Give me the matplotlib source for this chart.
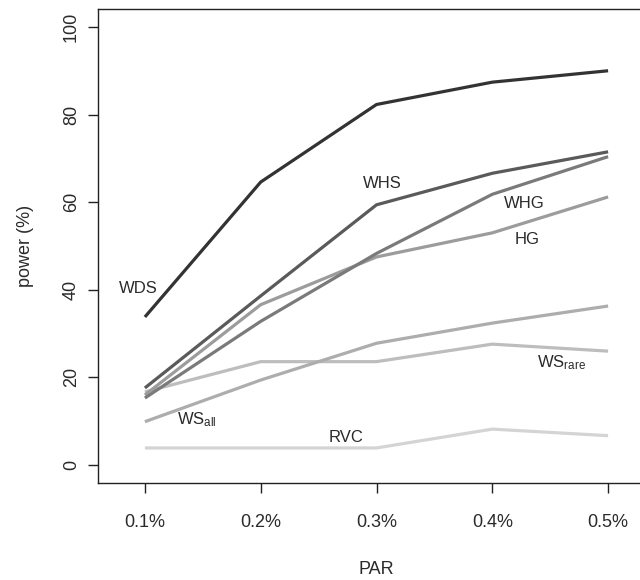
import numpy as np
import matplotlib
matplotlib.use('Agg')
from matplotlib import pyplot as plt

plt.rcParams['font.family'] = ['Liberation Sans', 'DejaVu Sans']
plt.rcParams['mathtext.default'] = 'regular'

par = [0.1, 0.2, 0.3, 0.4, 0.5]
par_labels = ['0.1%', '0.2%', '0.3%', '0.4%', '0.5%']

wds = [33.8, 64.6, 82.3, 87.4, 90.0]
whs = [17.6, 38.6, 59.4, 66.6, 71.5]
whg = [15.3, 32.8, 48.3, 61.8, 70.4]
hg = [16.0, 36.6, 47.5, 53.0, 61.2]
ws_rare = [16.7, 23.6, 23.6, 27.6, 26.0]
ws_all = [9.9, 19.4, 27.8, 32.4, 36.3]
rvc = [3.9, 3.9, 3.9, 8.2, 6.7]

series = [
    (wds, '#333333', 'WDS', (0.094, 40.2)),
    (whs, '#5a5a5a', 'WHS', (0.305, 64.2)),
    (whg, '#7a7a7a', 'WHG', (0.428, 59.8)),
    (hg, '#9c9c9c', 'HG', (0.430, 51.4)),
    (ws_all, '#adadad', 'WS$_{all}$', (0.145, 10.3)),
    (ws_rare, '#bdbdbd', 'WS$_{rare}$', (0.46, 23.3)),
    (rvc, '#d4d4d4', 'RVC', (0.274, 6.4)),
]

fig = plt.figure(figsize=(6.4, 5.8), dpi=100)
ax = fig.add_axes([98 / 640, 97 / 580, 557 / 640, 474 / 580])

# draw lightest first so darker lines sit on top
for vals, col, name, pos in reversed(series):
    ax.plot(par, vals, color=col, lw=2.3, solid_capstyle='butt')
    ax.text(pos[0], pos[1], name, ha='center', va='center',
            fontsize=12, color='#2a2a2a')

ax.set_xlim(0.0595, 0.5405)
ax.set_ylim(-4.1, 104.1)
ax.set_xticks(par)
ax.set_xticklabels(par_labels)
ax.set_yticks([0, 20, 40, 60, 80, 100])
for lab in ax.get_yticklabels():
    lab.set_rotation(90)
    lab.set_va('center')
ax.tick_params(direction='out', length=7, width=1, labelsize=13,
               color='#222222', labelcolor='#2a2a2a')
ax.tick_params(axis='x', pad=15)
ax.tick_params(axis='y', pad=6)
for sp in ax.spines.values():
    sp.set_color('#222222')
    sp.set_linewidth(1)

ax.set_xlabel('PAR', fontsize=13, color='#2a2a2a', labelpad=22)
ax.set_ylabel('power (%)', fontsize=13, color='#2a2a2a', labelpad=21)

fig.savefig('out.png', dpi=100)
